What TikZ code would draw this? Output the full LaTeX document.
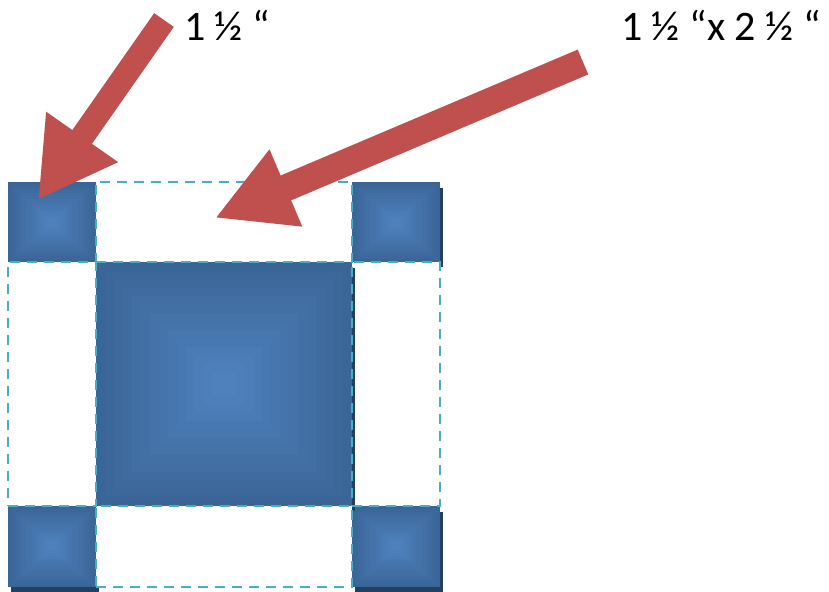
\documentclass[tikz,border=0pt]{standalone}
\usepackage{fontspec}
\setmainfont{Carlito}
\usetikzlibrary{arrows.meta,calc}
\definecolor{tileedge}{HTML}{3A6597}
\definecolor{tilecenter}{HTML}{4F81BD}
\definecolor{tileshadow}{HTML}{243F60}
\definecolor{dashc}{HTML}{4BACC6}
\definecolor{arrowc}{HTML}{C0504D}
% #1 node, #2 right shadow, #3 bottom shadow
\newcommand\shadetile[3]{%
  \ifnum#2=1
    \fill[tileshadow] ($(#1.north east)+(0,6)$) rectangle ($(#1.south east)+(3,5)$);
  \fi
  \ifnum#3=1
    \fill[tileshadow] ($(#1.south west)+(3,0)$) rectangle ($(#1.south east)+(3,5)$);
  \fi
  \foreach \i in {0,...,13}{%
    \pgfmathsetmacro\f{0.035*\i}%
    \pgfmathsetmacro\p{100*\i/13}%
    \fill[tilecenter!\p!tileedge] ($(#1.south west)!\f!(#1.north east)$) rectangle ($(#1.north east)!\f!(#1.south west)$);
  }%
}
\tikzset{
  tile/.style={inner sep=0pt, outer sep=0pt},
  strip/.style={draw=dashc, line width=2.4pt, dash pattern=on 10pt off 7pt, inner sep=0pt, outer sep=0pt},
  lbl/.style={font=\fontsize{42}{50}\selectfont, inner sep=0pt, text=black}
}
\begin{document}
\begin{tikzpicture}[x=1pt,y=-1pt]
\useasboundingbox (0,0) rectangle (829,591);
% tiles
\node[tile, minimum width=88pt, minimum height=80pt] (tl) at (52,222) {};
\node[tile, minimum width=88pt, minimum height=80pt] (tr) at (396,222) {};
\node[tile, minimum width=88pt, minimum height=81pt] (bl) at (52,546.5) {};
\node[tile, minimum width=88pt, minimum height=81pt] (br) at (396,546.5) {};
\node[tile, minimum width=256pt, minimum height=244pt] (c) at (224,384) {};
\shadetile{tr}{1}{0}
\shadetile{bl}{0}{1}
\shadetile{br}{1}{1}
\shadetile{c}{1}{0}
\shadetile{tl}{0}{0}
% dashed strips
\node[strip, minimum width=256pt, minimum height=80pt] (st) at (224,222) {};
\node[strip, minimum width=88pt, minimum height=244pt] (sl) at (52,384) {};
\node[strip, minimum width=88pt, minimum height=244pt] (sr) at (396,384) {};
\node[strip, minimum width=256pt, minimum height=81pt] (sb) at (224,546.5) {};
% labels
\node[lbl, anchor=base west] (t1) at (184,41) {1 ½ “};
\node[lbl, anchor=base west] (t2) at (621,41) {1 ½ “x 2 ½ “};
% arrows
\coordinate (a1s) at (164,20);
\coordinate (a1e) at (38,200);
\coordinate (a2s) at (583,62);
\coordinate (a2e) at (215,218);
\draw[arrowc, line width=24pt, -{Triangle[length=77pt,width=82pt]}] (a1s) -- (a1e);
\draw[arrowc, line width=27pt, -{Triangle[length=77pt,width=78pt]}] (a2s) -- (a2e);
\end{tikzpicture}
\end{document}
